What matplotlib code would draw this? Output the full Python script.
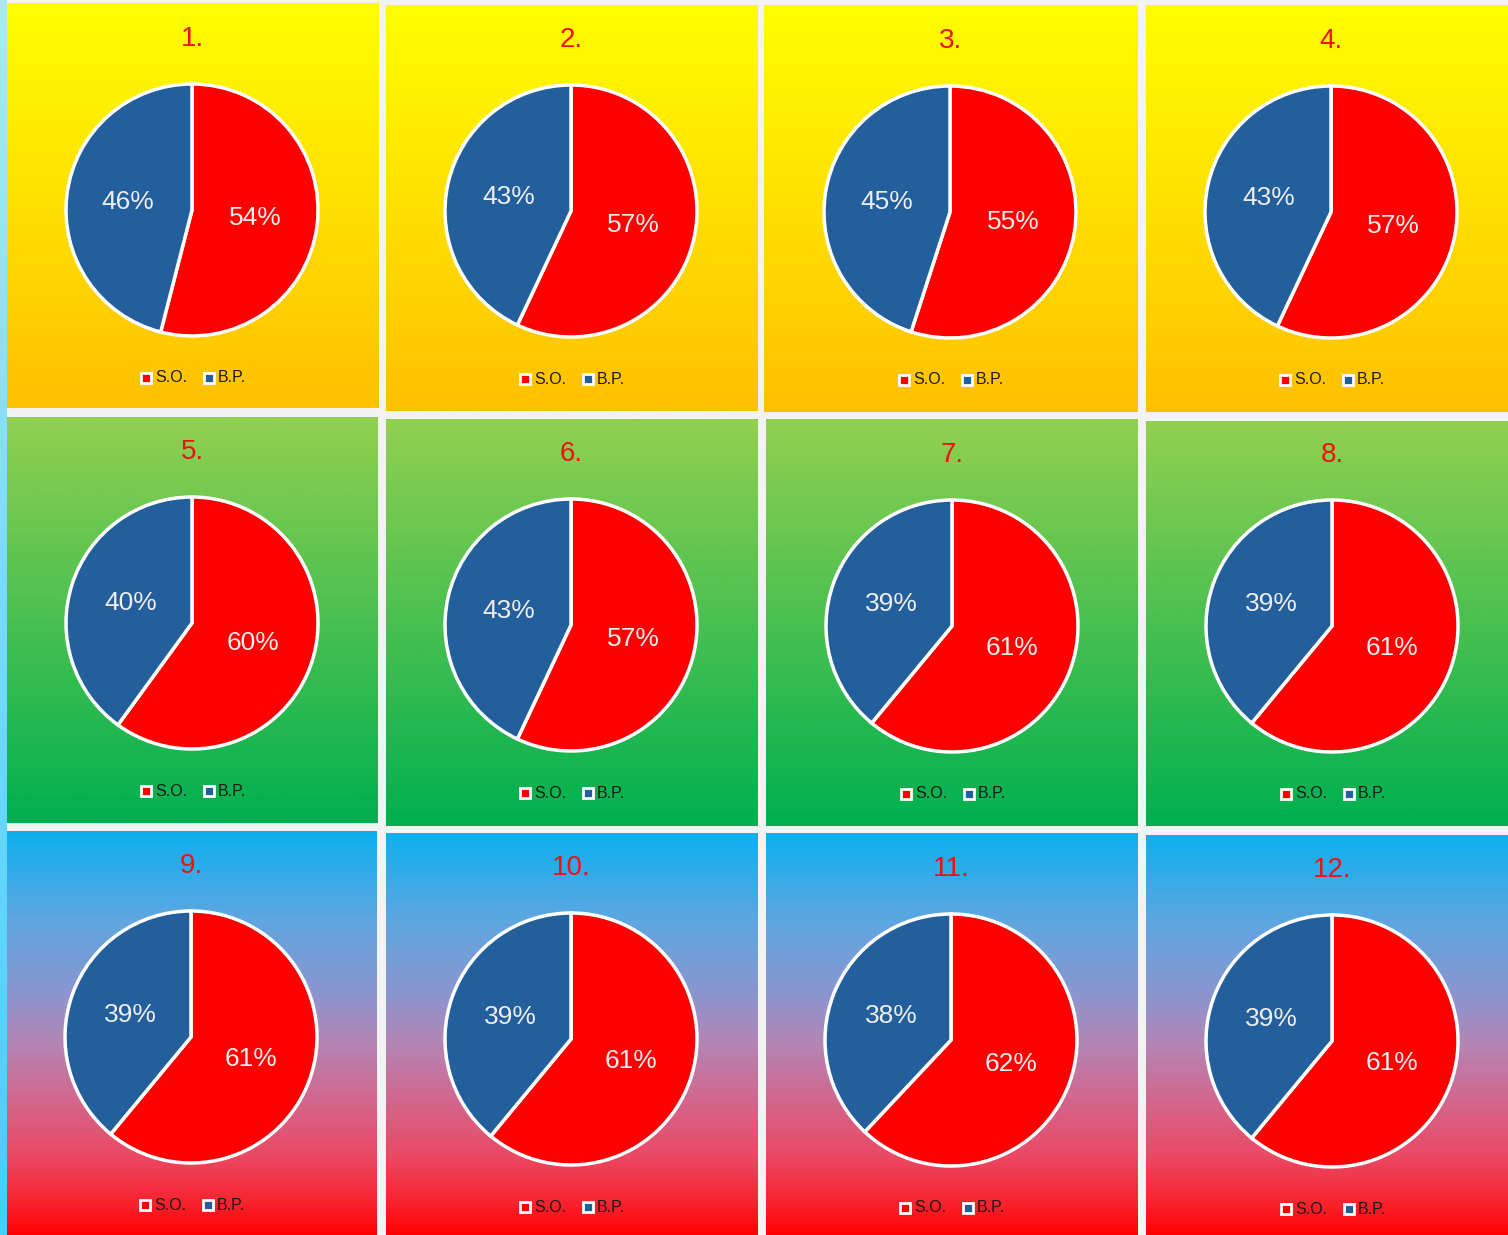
import numpy as np
import matplotlib.pyplot as plt
from matplotlib.colors import to_rgb

# chart values
titles = ["1.", "2.", "3.", "4.", "5.", "6.", "7.", "8.", "9.", "10.", "11.", "12."]
so_pct = [54, 57, 55, 57, 60, 57, 61, 61, 61, 61, 62, 61]
bp_pct = [46, 43, 45, 43, 40, 43, 39, 39, 39, 39, 38, 39]
series = ["S.O.", "B.P."]

W, H = 1508, 1235
RED, BLUE = "#FF0000", "#235F9C"

# panel boxes (x0, y0, x1, y1) in pixels, pie centres in pixels
panels = [(7, 3, 379, 408), (386, 5, 758, 411), (764, 5, 1138, 412), (1146, 5, 1508, 412),
          (7, 417, 378, 823), (386, 419, 758, 826), (766, 419, 1138, 826), (1146, 421, 1508, 826),
          (7, 831, 377, 1235), (386, 833, 758, 1235), (766, 833, 1138, 1235), (1146, 835, 1508, 1235)]
centers = [(192, 210), (571, 211), (950, 212), (1331, 212),
           (192, 623), (571, 625), (952, 626), (1332, 626),
           (191, 1037), (571, 1039), (951, 1040), (1332, 1041)]
R = 126

row_grads = [
    [(0.0, "#FFFF00"), (1.0, "#FFC000")],
    [(0.0, "#92D050"), (1.0, "#00B050")],
    [(0.0, "#0EB0F0"), (0.22, "#5FA6E0"), (0.40, "#8C96D0"), (0.52, "#B386B6"),
     (0.65, "#D06A92"), (0.80, "#EA4A66"), (0.92, "#F82430"), (1.0, "#FF0000")],
]


def gradient(stops, n=256):
    pos = [s[0] for s in stops]
    cols = np.array([to_rgb(s[1]) for s in stops])
    t = np.linspace(0, 1, n)
    img = np.stack([np.interp(t, pos, cols[:, k]) for k in range(3)], axis=-1)
    return img[:, None, :]


fig = plt.figure(figsize=(W / 100, H / 100), dpi=100, facecolor="#F3F3F3")
bg = fig.add_axes([0, 0, 1, 1])
bg.set_xlim(0, W)
bg.set_ylim(H, 0)
bg.axis("off")

# cyan strip on the far left
bg.imshow(gradient([(0, "#AAE8F8"), (1, "#46CEFF")]), extent=(0, 7, H, 0), aspect="auto")

for i, (x0, y0, x1, y1) in enumerate(panels):
    bg.imshow(gradient(row_grads[i // 4]), extent=(x0, x1, y1, y0), aspect="auto",
              interpolation="bilinear")
    cx, cy = centers[i]
    bg.text(cx, cy - 171, titles[i], color="#EE1111", fontsize=20,
            family="Liberation Sans", ha="center", va="center")
    # legend
    for dx, tx, col, name in [(-46, -37, RED, series[0]), (17, 26, BLUE, series[1])]:
        bg.plot(cx + dx, cy + 168, marker="s", ms=6.5, mfc=col, mec="white", mew=2.0)
        bg.text(cx + tx, cy + 168, name, color="#1A1A1A", fontsize=11.5,
                family="Liberation Sans", ha="left", va="center")

bg.set_xlim(0, W)
bg.set_ylim(H, 0)

L = 1.04
for i, (cx, cy) in enumerate(centers):
    size = 2 * R * L
    ax = fig.add_axes([(cx - size / 2) / W, 1 - (cy + size / 2) / H, size / W, size / H])
    ax.pie([so_pct[i], bp_pct[i]], colors=[RED, BLUE], startangle=90, counterclock=False,
           labels=[f"{so_pct[i]}%", f"{bp_pct[i]}%"], labeldistance=0.51,
           textprops=dict(color="#EEEEEE", fontsize=19, family="Liberation Sans",
                          ha="center", va="center"),
           wedgeprops=dict(edgecolor="white", linewidth=2.5))
    ax.set_xlim(-L, L)
    ax.set_ylim(-L, L)
    ax.axis("off")

fig.savefig("out.png", dpi=100, facecolor=fig.get_facecolor())
